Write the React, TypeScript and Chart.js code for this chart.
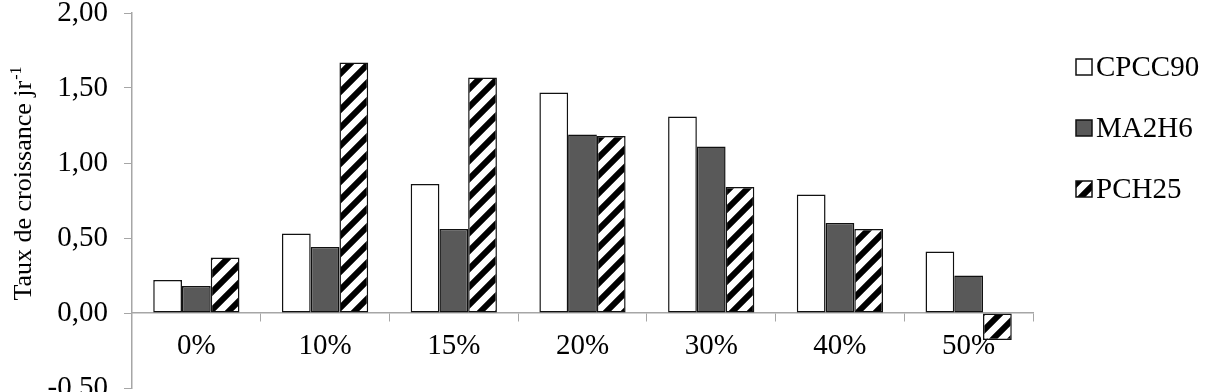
import React, { useEffect, useRef } from 'react';
import { Chart, registerables } from 'chart.js';

Chart.register(...registerables);

const categories = ['0%', '10%', '15%', '20%', '30%', '40%', '50%'];
const seriesNames = ['CPCC90', 'MA2H6', 'PCH25'];
const cpcc90 = [0.22, 0.53, 0.86, 1.47, 1.31, 0.79, 0.41];
const ma2h6 = [0.18, 0.44, 0.56, 1.19, 1.11, 0.6, 0.25];
const pch25 = [0.37, 1.67, 1.57, 1.18, 0.84, 0.56, -0.18];
const yMin = -0.5;
const yMax = 2;
const yStep = 0.5;
const axisTitle = 'Taux de croissance jr';
const axisTitleSup = '-1';

const FONT_FAMILY = '"Liberation Serif", "Times New Roman", serif';
const FONT_SIZE = 29;
const AXIS_COLOR = '#a6a6a6';

function makeHatch(): CanvasPattern | string {
  const c = document.createElement('canvas');
  c.width = 18;
  c.height = 18;
  const g = c.getContext('2d');
  if (!g) return '#fff';
  g.fillStyle = '#fff';
  g.fillRect(0, 0, 18, 18);
  g.strokeStyle = '#000';
  g.lineWidth = 6;
  g.beginPath();
  g.moveTo(-4, 22);
  g.lineTo(22, -4);
  g.moveTo(-6, 6);
  g.lineTo(6, -6);
  g.moveTo(12, 24);
  g.lineTo(24, 12);
  g.stroke();
  return g.createPattern(c, 'repeat') || '#fff';
}

export default function App() {
  const ref = useRef<HTMLCanvasElement | null>(null);

  useEffect(() => {
    document.body.style.margin = '0';
    const canvas = ref.current;
    if (!canvas) return;
    const hatch = makeHatch();
    const fills: any[] = ['#ffffff', '#595959', hatch];
    const values = [cpcc90, ma2h6, pch25];

    const titlePlugin = {
      id: 'yTitleSup',
      afterDraw(chart: any) {
        const ctx = chart.ctx as CanvasRenderingContext2D;
        ctx.save();
        ctx.translate(31, 184);
        ctx.rotate(-Math.PI / 2);
        ctx.fillStyle = '#000';
        ctx.textBaseline = 'alphabetic';
        ctx.textAlign = 'left';
        ctx.font = `26px ${FONT_FAMILY}`;
        const w1 = ctx.measureText(axisTitle).width;
        ctx.font = `16px ${FONT_FAMILY}`;
        const w2 = ctx.measureText(axisTitleSup).width;
        const start = -(w1 + w2) / 2;
        ctx.font = `26px ${FONT_FAMILY}`;
        ctx.fillText(axisTitle, start, 0);
        ctx.font = `16px ${FONT_FAMILY}`;
        ctx.fillText(axisTitleSup, start + w1 + 1, -10);
        ctx.restore();
      },
    };

    const legendPlugin = {
      id: 'sideLegend',
      afterDraw(chart: any) {
        const ctx = chart.ctx as CanvasRenderingContext2D;
        const ys = [67, 128, 189];
        ctx.save();
        chart.data.datasets.forEach((ds: any, i: number) => {
          const y = ys[i];
          ctx.fillStyle = ds.backgroundColor;
          ctx.fillRect(1076, y - 8, 16, 16);
          ctx.strokeStyle = '#111';
          ctx.lineWidth = 1.5;
          ctx.strokeRect(1076, y - 8, 16, 16);
          ctx.fillStyle = '#000';
          ctx.font = `${FONT_SIZE}px ${FONT_FAMILY}`;
          ctx.textBaseline = 'middle';
          ctx.textAlign = 'left';
          ctx.fillText(ds.label, 1096, y + 1);
        });
        ctx.restore();
      },
    };

    const chart = new Chart(canvas, {
      type: 'bar',
      data: {
        labels: categories,
        datasets: seriesNames.map((name, i) => ({
          label: name,
          data: values[i],
          backgroundColor: fills[i],
          borderColor: '#111',
          borderWidth: 1.5,
          borderSkipped: false,
          categoryPercentage: 0.67,
          barPercentage: 1,
        })),
      },
      options: {
        animation: false,
        responsive: false,
        devicePixelRatio: 1,
        layout: { padding: { left: 0, right: 179, top: 13, bottom: 12 } },
        plugins: {
          legend: { display: false },
          tooltip: { enabled: false },
        },
        scales: {
          x: {
            position: { y: 0 } as any,
            grid: {
              display: true,
              drawOnChartArea: false,
              drawTicks: true,
              tickLength: 8,
              color: AXIS_COLOR,
              offset: true,
            },
            border: { display: true, color: AXIS_COLOR, width: 1.5 },
            ticks: {
              color: '#000',
              padding: 8,
              font: { family: FONT_FAMILY, size: FONT_SIZE },
              maxRotation: 0,
            },
          },
          y: {
            min: yMin,
            max: yMax,
            grid: {
              display: true,
              drawOnChartArea: false,
              drawTicks: true,
              tickLength: 8,
              color: AXIS_COLOR,
            },
            border: { display: true, color: AXIS_COLOR, width: 1.5 },
            ticks: {
              stepSize: yStep,
              color: '#000',
              padding: 16,
              font: { family: FONT_FAMILY, size: FONT_SIZE },
              callback: (v: any) => Number(v).toFixed(2).replace('.', ','),
            },
            afterFit: (s: any) => {
              s.width = 132;
              s.paddingTop = 0;
              s.paddingBottom = 0;
            },
          },
        },
      },
      plugins: [titlePlugin, legendPlugin],
    });
    return () => chart.destroy();
  }, []);

  return (
    <div style={{ width: 1212, height: 392, overflow: 'hidden', position: 'relative' }}>
      <canvas ref={ref} width={1212} height={400} style={{ display: 'block', width: 1212, height: 400 }} />
    </div>
  );
}
